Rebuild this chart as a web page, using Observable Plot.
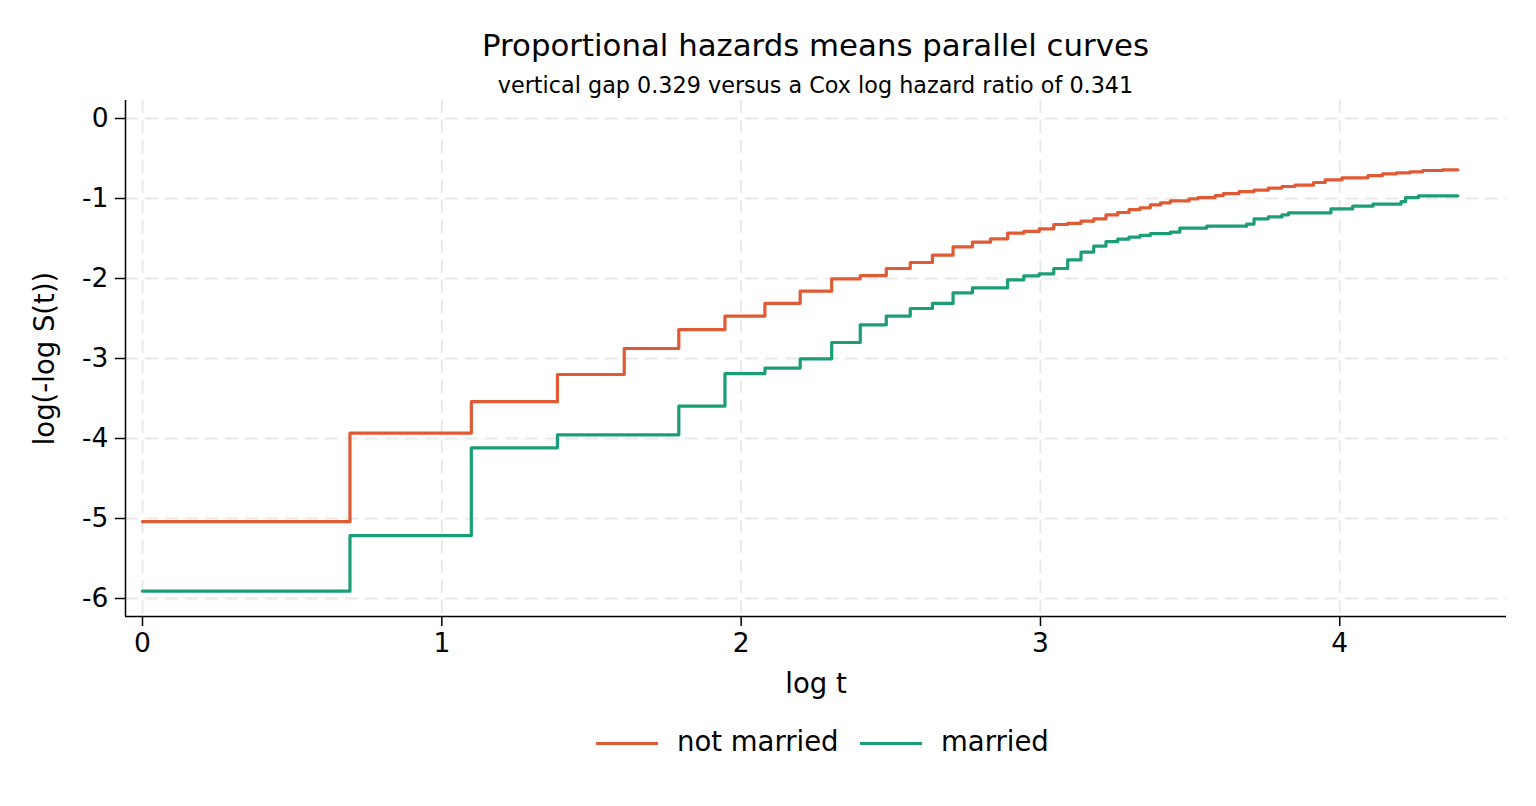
<!DOCTYPE html>
<html><head><meta charset="utf-8">
<script src="https://cdn.jsdelivr.net/npm/d3@7"></script>
<script src="https://cdn.jsdelivr.net/npm/@observablehq/plot@0.6"></script>
<style>
body{margin:0;background:#fff;font-family:"DejaVu Sans",sans-serif;color:#000}
#wrap{width:1536px;position:relative}
#head{position:relative;height:100px}
.ctr{position:absolute;left:125px;width:1381px;text-align:center;line-height:1;white-space:nowrap}
#title{top:30px;font-size:30.8px}
#sub{top:74px;font-size:22.3px}
#legend{position:relative;height:96px}
.sw{position:absolute;top:32px;width:62px;height:0;border-top:3px solid}
.lt{position:absolute;top:18px;font-size:27.5px;line-height:1;white-space:nowrap}
svg{display:block}
</style></head><body>
<div id="wrap">
  <div id="head">
    <div id="title" class="ctr">Proportional hazards means parallel curves</div>
    <div id="sub" class="ctr">vertical gap 0.329 versus a Cox log hazard ratio of 0.341</div>
  </div>
  <div id="chart"></div>
  <div id="legend"></div>
</div>
<script>
// Event times (t) and log(-log S(t)) levels
const groups = ["not married", "married"];
const colors = ["#e05a33", "#1b9e77"];
const tNotMarried = [1,2,3,4,5,6,7,8,9,10,11,12,13,14,15,16,17,18,19,20,21,22,23,24,25,26,27,28,29,30,31,33,34,36,37,39,41,43,45,47,50,52,55,60,63,66,69,72,77,81];
const yNotMarried = [-5.04,-3.933,-3.54,-3.2,-2.875,-2.64,-2.47,-2.31,-2.158,-2.004,-1.963,-1.875,-1.80,-1.708,-1.604,-1.546,-1.504,-1.433,-1.412,-1.379,-1.325,-1.312,-1.283,-1.255,-1.205,-1.175,-1.14,-1.116,-1.08,-1.054,-1.03,-1.004,-0.988,-0.963,-0.938,-0.913,-0.896,-0.87,-0.85,-0.833,-0.80,-0.767,-0.742,-0.713,-0.692,-0.68,-0.667,-0.65,-0.642,-0.642];
const tMarried = [1,2,3,4,6,7,8,9,10,11,12,13,14,15,16,18,19,20,21,22,23,24,25,26,27,28,29,31,32,35,40,41,43,45,46,53,57,61,67,68,71,81];
const yMarried = [-5.908,-5.213,-4.117,-3.954,-3.596,-3.19,-3.12,-3.004,-2.80,-2.579,-2.47,-2.375,-2.312,-2.179,-2.117,-2.017,-1.967,-1.942,-1.875,-1.767,-1.67,-1.595,-1.54,-1.508,-1.483,-1.462,-1.44,-1.42,-1.37,-1.346,-1.32,-1.254,-1.23,-1.204,-1.18,-1.13,-1.096,-1.07,-1.04,-0.99,-0.967,-0.967];
const xTicks = [0,1,2,3,4];
const yTicks = [0,-1,-2,-3,-4,-5,-6];
const xDomain = [-0.0568, 4.557];
const yDomain = [-6.225, 0.225];

const nm = tNotMarried.map((t,i)=>({t, v:yNotMarried[i]}));
const m = tMarried.map((t,i)=>({t, v:yMarried[i]}));

const gridStyle = {stroke:"#e9e9e9", strokeOpacity:1, strokeWidth:2, strokeDasharray:"13,7"};
const chart = Plot.plot({
  width:1536, height:610,
  marginLeft:125, marginRight:30, marginTop:0, marginBottom:94,
  style:{fontFamily:"DejaVu Sans", fontSize:"26.5px", color:"#000", background:"#fff", overflow:"visible"},
  x:{domain:xDomain},
  y:{domain:yDomain},
  marks:[
    Plot.gridX(xTicks, gridStyle),
    Plot.gridY(yTicks, gridStyle),
    Plot.axisX(xTicks, {tickSize:10, tickPadding:7, fontSize:26.5, label:null, tickFormat:d=>String(d), strokeWidth:1.5}),
    Plot.axisY(yTicks, {tickSize:10, tickPadding:7, fontSize:26.5, label:null, tickFormat:d=>String(d), strokeWidth:1.5}),
    Plot.ruleX([xDomain[0]], {stroke:"#000", strokeWidth:1.5}),
    Plot.ruleY([yDomain[0]], {stroke:"#000", strokeWidth:1.5}),
    Plot.line(nm, {x:d=>Math.log(d.t), y:"v", curve:"step-after", stroke:colors[0], strokeWidth:3.2}),
    Plot.line(m, {x:d=>Math.log(d.t), y:"v", curve:"step-after", stroke:colors[1], strokeWidth:3.2}),
    Plot.text(["log t"], {text:d=>d, frameAnchor:"bottom", dy:76, fontSize:27.5, fill:"#000", textAnchor:"middle"}),
    Plot.text(["log(-log S(t))"], {text:d=>d, frameAnchor:"left", dx:-80, rotate:-90, fontSize:27.5, fill:"#000", textAnchor:"middle"})
  ]
});
document.getElementById("chart").appendChild(chart);

const leg = document.getElementById("legend");
const swLeft = [596, 860], txtLeft = [677, 941];
groups.forEach((g,i)=>{
  const s = document.createElement("div");
  s.className = "sw"; s.style.left = swLeft[i]+"px"; s.style.borderTopColor = colors[i];
  leg.appendChild(s);
  const t = document.createElement("div");
  t.className = "lt"; t.style.left = txtLeft[i]+"px"; t.textContent = g;
  leg.appendChild(t);
});
</script>
</body></html>
